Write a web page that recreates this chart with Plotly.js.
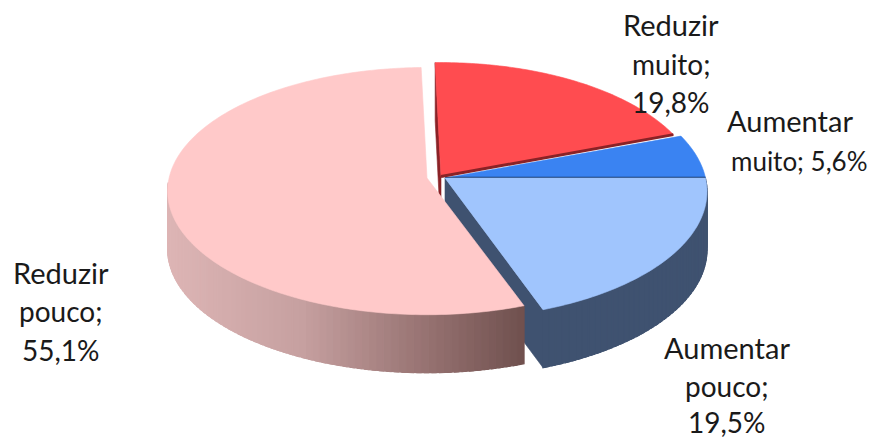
<!DOCTYPE html>
<html><head><meta charset="utf-8">
<script src="https://cdn.plot.ly/plotly-3.0.1.min.js"></script>
<style>html,body{margin:0;padding:0;background:#fff}#c{width:873px;height:438px}</style>
</head><body><div id="c"></div>
<script>
// Data, in drawing order clockwise from the 3 o'clock position
const categories = ["Aumentar pouco", "Reduzir pouco", "Reduzir muito", "Aumentar muito"];
const values = [19.5, 55.1, 19.8, 5.6];
const labelLines = [["Aumentar", "pouco;", "19,5%"], ["Reduzir", "pouco;", "55,1%"], ["Reduzir", "muito;", "19,8%"], ["Aumentar", "muito; 5,6%"]];
const topColors = ["#a0c5fd", "#ffc9c9", "#ff4c50", "#3a83f2"];
const startAngle = 90;

// Per-slice look of the 3D pie: apex on the page and squash
const apex = [{x: 445, y: 178, sx: 1, sy: 1}, {x: 427, y: 178, sx: 0.99, sy: 0.97}, {x: 441, y: 176.5, sx: 0.985, sy: 1}, {x: 445, y: 178, sx: 1, sy: 1}];
const labelPos = [
  [[727, 347], [727, 386], [727, 422]],
  [[61, 272], [61, 311], [61, 350]],
  [[671, 24], [671, 64], [671, 102]],
  [[790, 120], [799, 161]]
];
const labelSizes = [[29, 28, 28], [29, 28, 28], [29, 28, 28], [29, 26]];
const R = 260.5, RY = 126, K = 0.106, DEPTH = 58;

function proj(slice, deg) {
  const t = deg * Math.PI / 180, d = 1 + K * Math.cos(t), a = apex[slice];
  return [a.x + a.sx * R * Math.sin(t) / d, a.y - a.sy * RY * Math.cos(t) / d];
}
function hex(c) { return [1, 3, 5].map(i => parseInt(c.substr(i, 2), 16)); }
function ramp(stops, x) {
  for (let i = 1; i < stops.length; i++) {
    if (x <= stops[i][0] || i === stops.length - 1) {
      const f = Math.max(0, Math.min(1, (x - stops[i - 1][0]) / (stops[i][0] - stops[i - 1][0])));
      const a = hex(stops[i - 1][1]), b = hex(stops[i][1]);
      return "rgb(" + a.map((v, j) => Math.round(v + (b[j] - v) * f)).join(",") + ")";
    }
  }
}
function poly(pts, color, lw) {
  return {type: "scatter", mode: "lines", x: pts.map(p => p[0]).concat(pts[0][0]), y: pts.map(p => p[1]).concat(pts[0][1]),
    fill: "toself", fillcolor: color, line: {color, width: lw === undefined ? 0.6 : lw, simplify: false},
    hoverinfo: "skip", showlegend: false};
}
const total = values.reduce((a, b) => a + b, 0);
const ranges = [];
let ang = startAngle;
values.forEach(v => { ranges.push([ang, ang + v / total * 360]); ang += v / total * 360; });

function wedge(i) {
  const a = apex[i], pts = [[a.x, a.y]], [s, e] = ranges[i];
  for (let d = s; d < e; d += 1) pts.push(proj(i, d));
  pts.push(proj(i, e));
  return poly(pts, topColors[i]);
}
function cutFace(i, deg, color) {
  const a = apex[i], p = proj(i, deg);
  return poly([[a.x, a.y], p, [p[0], p[1] + DEPTH], [a.x, a.y + DEPTH]], color);
}
function wall(i, s, e, stops) {
  const out = [], step = 1.5;
  for (let d = s; d < e; d += step) {
    const d2 = Math.min(e, d + step + 0.8), p = proj(i, d), q = proj(i, d2);
    out.push(poly([p, q, [q[0], q[1] + DEPTH], [p[0], p[1] + DEPTH]], ramp(stops, (p[0] + q[0]) / 2), 1.2));
  }
  return out;
}
const pinkWall = [[168, "#ddb5b5"], [300, "#c6a0a0"], [430, "#94706f"], [525, "#6e4f4d"]];
const blueWall = [[540, "#3f5270"], [705, "#3f5270"]];

function edge(i, deg, color, w) {
  const a = apex[i], p = proj(i, deg);
  return {type: "scatter", mode: "lines", x: [a.x, p[0]], y: [a.y, p[1]], line: {color, width: w}, hoverinfo: "skip", showlegend: false};
}
const traces = [];
traces.push(cutFace(2, ranges[2][0], "#8a2226"));
traces.push(wedge(3));
traces.push(edge(3, ranges[3][1], "#14396f", 2.5));
traces.push(wedge(2));
traces.push(edge(2, ranges[2][1], "#8a2226", 3));
traces.push(cutFace(0, ranges[0][1], "#3f5270"));
wall(0, ranges[0][0], ranges[0][1], blueWall).forEach(t => traces.push(t));
traces.push(wedge(0));
wall(1, ranges[1][0], 268, pinkWall).forEach(t => traces.push(t));
traces.push(wedge(1));

const annotations = [];
labelLines.forEach((lines, i) => lines.forEach((txt, j) => {
  annotations.push({text: txt, x: labelPos[i][j][0], y: labelPos[i][j][1], xref: "x", yref: "y", showarrow: false,
    xanchor: "center", yanchor: "middle", font: {family: "Lato, sans-serif", size: labelSizes[i][j], color: "#1a1a1a"}});
}));

Plotly.newPlot("c", traces, {
  width: 873, height: 438, margin: {l: 0, r: 0, t: 0, b: 0},
  paper_bgcolor: "#fff", plot_bgcolor: "#fff", showlegend: false,
  xaxis: {range: [0, 873], visible: false, fixedrange: true},
  yaxis: {range: [438, 0], visible: false, fixedrange: true},
  annotations
}, {displayModeBar: false, staticPlot: true});
</script></body></html>
